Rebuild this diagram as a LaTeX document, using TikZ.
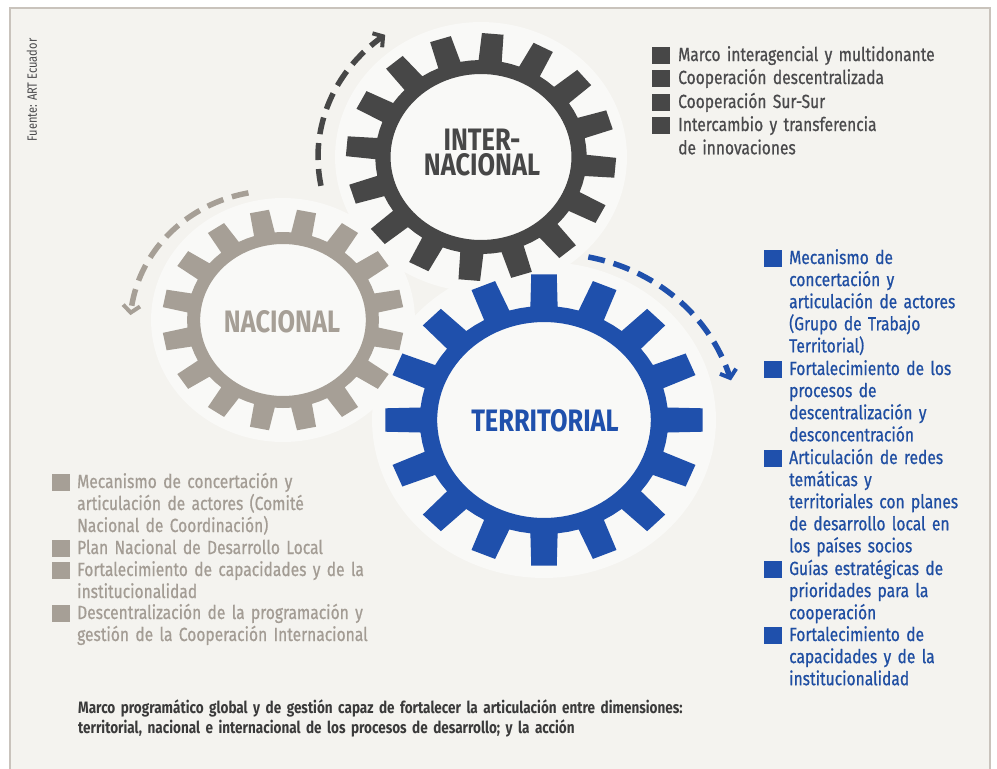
\documentclass[tikz,border=0pt]{standalone}
\usepackage{fontspec}
\setmainfont{Fira Sans}[FakeStretch=0.82]
\newfontfamily\listfont{Fira Sans}[FakeStretch=0.82,FakeBold=0.7]
\usetikzlibrary{arrows.meta}
\definecolor{bgc}{HTML}{F4F3EF}
\definecolor{haloc}{HTML}{F9F9F7}
\definecolor{framec}{HTML}{C9C3BC}
\definecolor{cdark}{HTML}{474747}
\definecolor{tdark}{HTML}{4A4A4C}
\definecolor{cgray}{HTML}{A69F96}
\definecolor{tgray}{HTML}{A39C94}
\definecolor{cblue}{HTML}{1F50AC}
\definecolor{tblue}{HTML}{1F4EA2}
\definecolor{tbottom}{HTML}{3A3A3A}
\newcommand{\myhalo}[4]{%
  \fill[haloc] plot[domain=0:360,samples=120] ({#1+#3*cos(\x)},{#2+#4*sin(\x)}) -- cycle;}
\newcommand{\mygear}[7]{%
  \begin{scope}[shift={(#1,#2)},xscale=1.09]
  \fill[#7,even odd rule] ({#6-6.3}:#4)
    \foreach \k in {0,...,15}{
      -- ({#6+\k*22.5-6.3}:#4) -- ({#6+\k*22.5-4.6}:#3) -- ({#6+\k*22.5+4.6}:#3)
      -- ({#6+\k*22.5+6.3}:#4) -- ({#6+\k*22.5+11.25}:#4)
    } -- cycle
    plot[domain=0:360,samples=100] (\x:#5) -- cycle;
  \end{scope}}
\tikzset{
  sq/.style={fill=#1, minimum width=18pt, minimum height=17pt, inner sep=0pt},
  itm/.style={anchor=base west, inner sep=0pt, text width=330pt, align=left,
    text=#1, font=\listfont\fontsize{19}{22.1}\selectfont},
  lbl/.style={anchor=base, inner sep=0pt, text=#1, text width=180pt, align=center,
    font=\fontsize{31}{25}\selectfont\bfseries},
  arr/.style={#1, line width=5.5pt, dash pattern=on 17pt off 9pt,
    -{Straight Barb[length=7pt,width=17pt,line width=4pt]}},
}
\begin{document}
\begin{tikzpicture}[x=1pt,y=-1pt]
\useasboundingbox (0,0) rectangle (997,769);
\fill[white] (0,0) rectangle (997,769);
\filldraw[fill=bgc, draw=framec, line width=1.5pt] (10,8) rectangle (990,790);
% halos
\myhalo{283}{320}{132}{122}
\myhalo{481}{157}{146}{135}
\myhalo{544}{420}{172}{158}
% gears
\mygear{283}{320}{111}{88}{76}{11.25}{cgray}
\mygear{481}{157}{124}{97}{83}{5}{cdark}
\mygear{544}{420}{146}{114}{98}{0}{cblue}
% rotation arrows
\draw[arr=cdark] plot[domain=169:234, samples=40] ({481+163*cos(\x)},{157+151*sin(\x)});
\draw[arr=cgray] plot[domain=256:182, samples=40] ({283+1.09*(131+(256-\x)*9/74)*cos(\x)},{320+(131+(256-\x)*9/74)*sin(\x)});
\draw[arr=cblue] plot[domain=-76:-13, samples=40] ({544+1.09*(168+(\x+76)*8/63)*cos(\x)},{420+(168+(\x+76)*8/63)*sin(\x)});
% gear labels
\node[lbl=cdark] (lint) at (482,150) {INTER-\\NACIONAL};
\node[lbl=cgray] (lnac) at (282,332) {NACIONAL};
\node[lbl=cblue] (lter) at (545,431) {TERRITORIAL};
% source
\node[rotate=90, inner sep=0pt, text=tdark, font=\fontsize{13.5}{14}\selectfont] (src) at (32,90) {Fuente: ART Ecuador};
% international list
\node[sq=cdark] (d1) at (661,55) {};
\node[sq=cdark] (d2) at (661,78) {};
\node[sq=cdark] (d3) at (661,102) {};
\node[sq=cdark] (d4) at (661,125) {};
\node[itm=tdark, font=\listfont\fontsize{19}{23.3}\selectfont] (td1) at (678,61) {Marco interagencial y multidonante};
\node[itm=tdark, font=\listfont\fontsize{19}{23.3}\selectfont] (td2) at (678,84) {Cooperación descentralizada};
\node[itm=tdark, font=\listfont\fontsize{19}{23.3}\selectfont] (td3) at (678,108) {Cooperación Sur-Sur};
\node[itm=tdark, font=\listfont\fontsize{19}{23.3}\selectfont] (td4) at (678,131) {Intercambio y transferencia\\ de innovaciones};
% territorial list
\node[sq=cblue] (b1) at (773,258) {};
\node[sq=cblue] (b2) at (773,369) {};
\node[sq=cblue] (b3) at (773,458) {};
\node[sq=cblue] (b4) at (773,569) {};
\node[sq=cblue] (b5) at (773,635) {};
\node[itm=tblue] (tb1) at (789,264) {Mecanismo de\\ concertación y\\ articulación de actores\\ (Grupo de Trabajo\\ Territorial)};
\node[itm=tblue] (tb2) at (789,375) {Fortalecimiento de los\\ procesos de\\ descentralización y\\ desconcentración};
\node[itm=tblue] (tb3) at (789,464) {Articulación de redes\\ temáticas y\\ territoriales con planes\\ de desarrollo local en\\ los países socios};
\node[itm=tblue] (tb4) at (789,575) {Guías estratégicas de\\ prioridades para la\\ cooperación};
\node[itm=tblue] (tb5) at (789,641) {Fortalecimiento de\\ capacidades y de la\\ institucionalidad};
% national list
\node[sq=cgray] (g1) at (61,482) {};
\node[sq=cgray] (g2) at (61,548) {};
\node[sq=cgray] (g3) at (61,570) {};
\node[sq=cgray] (g4) at (61,613) {};
\node[itm=tgray, font=\listfont\fontsize{19}{22}\selectfont] (tg1) at (77,488) {Mecanismo de concertación y\\ articulación de actores (Comité\\ Nacional de Coordinación)};
\node[itm=tgray, font=\listfont\fontsize{19}{22}\selectfont] (tg2) at (77,554) {Plan Nacional de Desarrollo Local};
\node[itm=tgray, font=\listfont\fontsize{19}{22}\selectfont] (tg3) at (77,576) {Fortalecimiento de capacidades y de la\\ institucionalidad};
\node[itm=tgray, font=\listfont\fontsize{19}{22}\selectfont] (tg4) at (77,619) {Descentralización de la programación y\\ gestión de la Cooperación Internacional};
% bottom note
\node[anchor=base west, inner sep=0pt, text width=700pt, align=left, text=tbottom,
  font=\fontsize{16.5}{20}\selectfont\bfseries] (note) at (78,713)
  {Marco programático global y de gestión capaz de fortalecer la articulación entre dimensiones:\\ territorial, nacional e internacional de los procesos de desarrollo; y la acción};
\end{tikzpicture}
\end{document}
